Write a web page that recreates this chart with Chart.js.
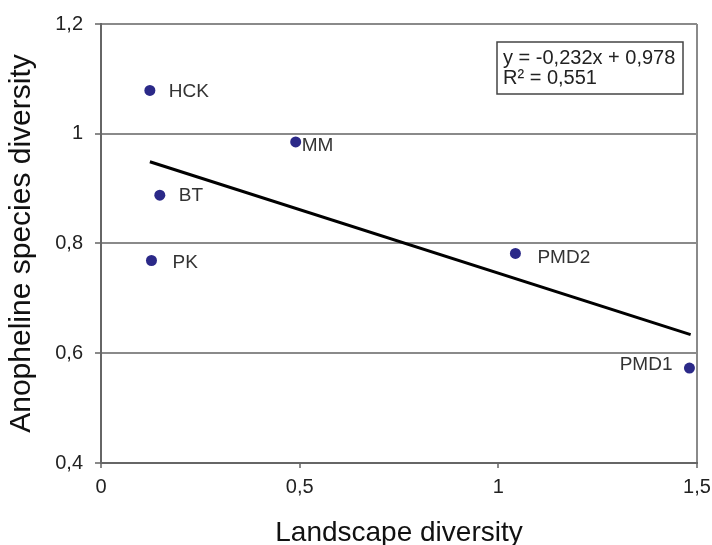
<!DOCTYPE html>
<html>
<head>
<meta charset="utf-8">
<script src="https://cdn.jsdelivr.net/npm/chart.js@4"></script>
<style>
  html, body { margin: 0; padding: 0; background: #fff; }
  #wrap { width: 712px; height: 545px; }
</style>
</head>
<body>
<div id="wrap"><canvas id="chart"></canvas></div>
<script>
// sites and their values
const siteNames = ['HCK', 'MM', 'BT', 'PK', 'PMD2', 'PMD1']
const landscapeDiversity = [0.123, 0.49, 0.148, 0.127, 1.043, 1.481]
const speciesDiversity = [1.079, 0.985, 0.888, 0.769, 0.782, 0.573]

// fitted line: y = -0,232x + 0,978 drawn across the data range
const trendX = [0.123, 1.484]
const trendY = [0.949, 0.634]
const equationLines = ['y = -0,232x + 0,978', 'R\u00b2 = 0,551']

const xTicks = [0, 0.5, 1, 1.5]
const yTicks = [0.4, 0.6, 0.8, 1, 1.2]

const FONT = "'Liberation Sans', Arial, sans-serif"
const GRID = '#8a8a8a'
const AXIS = '#666666'

const commaFmt = (v) => String(Math.round(v * 10) / 10).replace('.', ',')

const pointLabels = {
  id: 'pointLabels',
  afterDatasetsDraw(chart, args, opts) {
    const meta = chart.getDatasetMeta(0)
    const ctx = chart.ctx
    ctx.save()
    ctx.font = '19px ' + FONT
    ctx.fillStyle = '#333'
    ctx.textBaseline = 'middle'
    meta.data.forEach((pt, i) => {
      const o = opts.offsets[siteNames[i]] || [19, 0]
      ctx.textAlign = o[0] < 0 ? 'right' : 'left'
      ctx.fillText(siteNames[i], pt.x + o[0], pt.y + o[1])
    })
    ctx.restore()
  },
}

const equationBox = {
  id: 'equationBox',
  afterDraw(chart) {
    const { ctx, chartArea } = chart
    const x = chartArea.right - 200
    const y = chartArea.top + 18
    ctx.save()
    ctx.fillStyle = '#fff'
    ctx.fillRect(x, y, 186, 52)
    ctx.strokeStyle = '#444'
    ctx.lineWidth = 1.5
    ctx.strokeRect(x, y, 186, 52)
    ctx.fillStyle = '#222'
    ctx.font = '20px ' + FONT
    ctx.textAlign = 'left'
    ctx.textBaseline = 'alphabetic'
    equationLines.forEach((line, i) => ctx.fillText(line, x + 6, y + 22 + i * 20))
    ctx.restore()
  },
}

const config = {
  type: 'scatter',
  data: {
    datasets: [
      {
        label: 'sites',
        data: landscapeDiversity.map((x, i) => ({ x: x, y: speciesDiversity[i] })),
        pointRadius: 5.5,
        pointBackgroundColor: '#2b2988',
        pointBorderColor: '#2b2988',
        pointBorderWidth: 0,
      },
      {
        label: 'trend',
        data: trendX.map((x, i) => ({ x: x, y: trendY[i] })),
        showLine: true,
        pointRadius: 0,
        borderColor: '#000',
        borderWidth: 3,
      },
    ],
  },
  options: {
    responsive: true,
    maintainAspectRatio: false,
    animation: false,
    layout: { padding: { left: 0, right: 15, top: 23, bottom: 0 } },
    scales: {
      x: {
        type: 'linear',
        min: 0,
        max: 1.5,
        afterBuildTicks: (s) => { s.ticks = xTicks.map((v) => ({ value: v })) },
        afterFit: (s) => {
          s.height = 82
          s.paddingLeft = 0
          s.paddingRight = 0
        },
        ticks: {
          callback: commaFmt,
          font: { family: FONT, size: 20 },
          color: '#222',
          padding: 7,
          maxRotation: 0,
        },
        grid: {
          color: (c) => (c.tick && c.tick.value === 1.5 ? GRID : 'rgba(0,0,0,0)'),
          tickColor: GRID,
          lineWidth: 2,
          tickLength: 5,
        },
        border: { color: AXIS, width: 2 },
        title: {
          display: true,
          text: 'Landscape diversity',
          font: { family: FONT, size: 28, lineHeight: 1 },
          color: '#111',
          padding: { top: 0, bottom: -2 },
        },
      },
      y: {
        type: 'linear',
        min: 0.4,
        max: 1.2,
        afterBuildTicks: (s) => { s.ticks = yTicks.map((v) => ({ value: v })) },
        afterFit: (s) => { s.width = 101 },
        ticks: {
          callback: commaFmt,
          font: { family: FONT, size: 20 },
          color: '#222',
          padding: 12,
        },
        grid: {
          color: GRID,
          lineWidth: 2,
          tickLength: 6,
        },
        border: { color: AXIS, width: 2 },
        title: {
          display: true,
          text: 'Anopheline species diversity',
          font: { family: FONT, size: 30, lineHeight: 1.2 },
          color: '#111',
          padding: { top: 4, bottom: 0 },
        },
      },
    },
    plugins: {
      legend: { display: false },
      tooltip: { enabled: false },
      pointLabels: {
        offsets: {
          HCK: [19, 1],
          MM: [6, 4],
          BT: [19, 1],
          PK: [21, 2],
          PMD2: [22, 4],
          PMD1: [-17, -3],
        },
      },
    },
  },
  plugins: [pointLabels, equationBox],
}

new Chart(document.getElementById('chart'), config)
</script>
</body>
</html>
